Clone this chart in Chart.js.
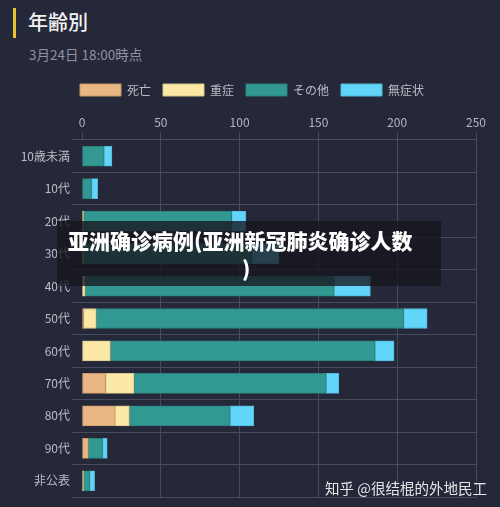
<!DOCTYPE html>
<html>
<head>
<meta charset="utf-8">
<script src="https://cdn.jsdelivr.net/npm/chart.js@4/dist/chart.umd.min.js"></script>
<style>
  html, body { margin: 0; padding: 0; background: #252839; }
  body { width: 500px; height: 507px; position: relative; overflow: hidden; font-family: "Noto Sans CJK JP", sans-serif; }
  #bar { position: absolute; left: 13px; top: 8px; width: 3px; height: 30px; background: #e8c530; }
  #titulo { position: absolute; left: 28px; top: 7px; color: #f2f2f2; font-size: 20px; font-weight: 500; }
  #sub { position: absolute; left: 29px; top: 44px; color: #90939f; font-size: 13.5px; }
  #wrap { position: absolute; left: 0; top: 70px; width: 500px; height: 437px; }
  #overlay { position: absolute; left: 57px; top: 221px; width: 384px; height: 65px; background: rgba(22,22,30,0.78); }
  #ov1 { position: absolute; left: 68px; top: 225px; color: #fff; font-weight: 900; font-size: 21px; font-family: "Noto Sans CJK SC", sans-serif; white-space: nowrap; }
  #ov2 { position: absolute; left: 242px; top: 253px; color: #fff; font-weight: 900; font-size: 21px; font-family: "Noto Sans CJK SC", sans-serif; }
  #marca { position: absolute; left: 325px; top: 477px; color: #e6e6e6; font-size: 14.5px; font-family: "Noto Sans CJK SC", sans-serif; white-space: nowrap; }
</style>
</head>
<body>
<div id="bar"></div>
<div id="titulo">年齢別</div>
<div id="sub">3月24日 18:00時点</div>
<div id="wrap"><canvas id="grafico"></canvas></div>
<div id="overlay"></div>
<div id="ov1">亚洲确诊病例(亚洲新冠肺炎确诊人数</div>
<div id="ov2">)</div>
<div id="marca">知乎 @很结棍的外地民工</div>
<script>
  // dados
  var faixas = ['10歳未満', '10代', '20代', '30代', '40代', '50代', '60代', '70代', '80代', '90代', '非公表'];
  var mortes = [0, 0, 0, 0, 0, 1, 0, 15, 21, 4, 0];
  var graves = [0, 0, 1, 1, 2, 8, 18, 18, 9, 0, 1];
  var outros = [14, 6, 94, 107, 158, 195, 168, 122, 64, 9, 4];
  var assint = [5, 4, 9, 17, 23, 15, 12, 8, 15, 3, 3];
  var ticksX = [0, 50, 100, 150, 200, 250];

  var fonte = "'Noto Sans CJK JP', sans-serif";

  function serie(nome, valores, cor, borda) {
    return {
      label: nome,
      data: valores,
      backgroundColor: cor,
      borderColor: borda,
      borderWidth: 1,
      borderSkipped: false,
      barThickness: 20
    };
  }

  // empurra a legenda um pouco para a direita
  var moveLegenda = {
    id: 'moveLegenda',
    afterLayout: function (chart) {
      chart.legend.left += 14;
      chart.legend.right += 14;
    }
  };

  var ctx = document.getElementById('grafico').getContext('2d');
  var chart = new Chart(ctx, {
    type: 'bar',
    data: {
      labels: faixas,
      datasets: [
        serie('死亡', mortes, '#e9b783', '#c99a6a'),
        serie('重症', graves, '#fde9a6', '#d9c68a'),
        serie('その他', outros, '#329892', '#2c807b'),
        serie('無症状', assint, '#62d6fa', '#52b8d8')
      ]
    },
    plugins: [moveLegenda],
    options: {
      indexAxis: 'y',
      responsive: true,
      maintainAspectRatio: false,
      animation: false,
      layout: { padding: { left: 0, right: 24, top: 2, bottom: 10 } },
      plugins: {
        tooltip: { enabled: false },
        legend: {
          position: 'top',
          labels: {
            boxWidth: 41,
            boxHeight: 12,
            padding: 12,
            color: '#bcbec6',
            font: { family: fonte, size: 12 }
          }
        }
      },
      scales: {
        x: {
          position: 'top',
          stacked: true,
          min: 0,
          max: 250,
          afterBuildTicks: function (axis) {
            axis.ticks = ticksX.map(function (v) { return { value: v }; });
          },
          afterFit: function (axis) { axis.height = 34; },
          border: { display: false },
          grid: {
            color: function (c) { return c.tick && c.tick.value === 0 ? 'rgba(0,0,0,0)' : '#474b5c'; },
            tickColor: '#474b5c',
            tickLength: 8
          },
          ticks: { color: '#b4b6be', font: { family: fonte, size: 12 }, padding: 2 }
        },
        y: {
          stacked: true,
          afterFit: function (axis) { axis.width = 82; },
          border: { display: false },
          grid: { color: '#474b5c', tickLength: 10, offset: true },
          ticks: { color: '#bcbec6', font: { family: fonte, size: 12 }, padding: 2 }
        }
      }
    }
  });
</script>
</body>
</html>
